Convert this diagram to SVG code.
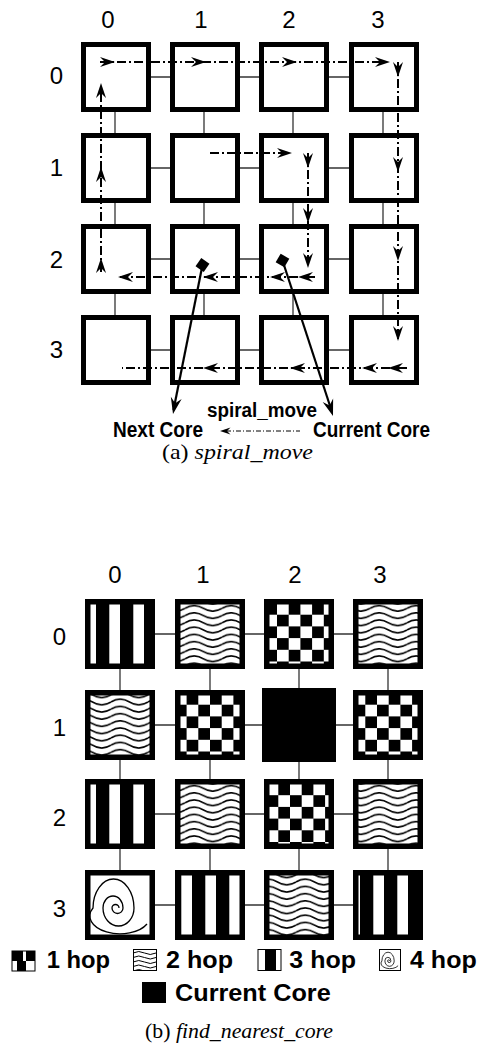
<svg xmlns="http://www.w3.org/2000/svg" width="479" height="1049" viewBox="0 0 479 1049">
<style>
.box{fill:#fff;stroke:#000;stroke-width:5}
.bb{stroke:#000;stroke-width:5.5}
.link{stroke:#333;stroke-width:1.3;fill:none}
.dd{stroke:#000;stroke-width:2;fill:none;stroke-dasharray:9 3 2 3}
.ptr{stroke:#000;stroke-width:2.2;fill:none}
.num{font-family:"Liberation Sans",Arial,sans-serif;font-size:24px;fill:#000}
.bld{font-family:"Liberation Sans",Arial,sans-serif;font-weight:bold;fill:#000}
.cap{font-family:"Liberation Serif","Times New Roman",serif;font-size:21px;fill:#000}
.sp{fill:none;stroke:#000}
</style>
<defs>
<path id="ah" d="M0 0 L-15 -5 L-10 0 L-15 5 Z" fill="#000"/>
<path id="spiral" vector-effect="non-scaling-stroke" d="M34 38 A3.5 3.5 0 0 0 27 38 A5.5 5.5 0 0 0 38 38 A10 12 0 0 0 18 38 A15.5 18 0 0 0 49 38 A20.5 29 0 0 0 8 38 A27 16 0 0 0 62 54"/>
<pattern id="stripes" patternUnits="userSpaceOnUse" width="24" height="10"><rect width="24" height="10" fill="#000"/><rect x="13.3" width="10.7" height="10" fill="#fff"/></pattern>
<pattern id="wave" patternUnits="userSpaceOnUse" width="37" height="7.2"><rect width="37" height="7.2" fill="#fff"/><path d="M0 3.6 Q9.25 -2 18.5 3.6 T37 3.6" fill="none" stroke="#000" stroke-width="1.6"/></pattern>
<pattern id="ck0" patternUnits="userSpaceOnUse" x="277" y="603" width="23.4" height="23.4"><rect width="23.4" height="23.4" fill="#000"/><rect width="11.7" height="11.7" fill="#fff"/><rect x="11.7" y="11.7" width="11.7" height="11.7" fill="#fff"/></pattern>
<pattern id="ck1" patternUnits="userSpaceOnUse" x="198.3" y="693" width="23.4" height="23.4"><rect width="23.4" height="23.4" fill="#000"/><rect width="11.7" height="11.7" fill="#fff"/><rect x="11.7" y="11.7" width="11.7" height="11.7" fill="#fff"/></pattern>
<pattern id="ck2" patternUnits="userSpaceOnUse" x="377" y="693" width="23.4" height="23.4"><rect width="23.4" height="23.4" fill="#000"/><rect width="11.7" height="11.7" fill="#fff"/><rect x="11.7" y="11.7" width="11.7" height="11.7" fill="#fff"/></pattern>
<pattern id="ck3" patternUnits="userSpaceOnUse" x="290" y="783.5" width="23.4" height="23.4"><rect width="23.4" height="23.4" fill="#000"/><rect width="11.7" height="11.7" fill="#fff"/><rect x="11.7" y="11.7" width="11.7" height="11.7" fill="#fff"/></pattern>
<clipPath id="c2hop"><rect x="133.5" y="949.5" width="23" height="21"/></clipPath>
</defs>
<rect width="479" height="1049" fill="#fff"/>

<!-- ===== (a) spiral_move ===== -->
<g id="a-labels" class="num">
<text x="108" y="28" text-anchor="middle">0</text>
<text x="201" y="28" text-anchor="middle">1</text>
<text x="289" y="28" text-anchor="middle">2</text>
<text x="378" y="28" text-anchor="middle">3</text>
<text x="63" y="84" text-anchor="end">0</text>
<text x="63" y="176" text-anchor="end">1</text>
<text x="63" y="268" text-anchor="end">2</text>
<text x="63" y="358" text-anchor="end">3</text>
</g>
<g id="a-links" class="link">
<line x1="116" y1="77" x2="384" y2="77"/>
<line x1="116" y1="168" x2="384" y2="168"/>
<line x1="116" y1="259" x2="384" y2="259"/>
<line x1="116" y1="350" x2="384" y2="350"/>
<line x1="115" y1="77" x2="115" y2="350"/>
<line x1="204" y1="77" x2="204" y2="350"/>
<line x1="293" y1="77" x2="293" y2="350"/>
<line x1="383" y1="77" x2="383" y2="350"/>
</g>
<g id="a-n00"><rect class="box" x="83.5" y="44.5" width="65" height="65"/></g>
<g id="a-n01"><rect class="box" x="172.5" y="44.5" width="65" height="65"/></g>
<g id="a-n02"><rect class="box" x="261.5" y="44.5" width="65" height="65"/></g>
<g id="a-n03"><rect class="box" x="351.5" y="44.5" width="65" height="65"/></g>
<g id="a-n10"><rect class="box" x="83.5" y="135.5" width="65" height="65"/></g>
<g id="a-n11"><rect class="box" x="172.5" y="135.5" width="65" height="65"/></g>
<g id="a-n12"><rect class="box" x="261.5" y="135.5" width="65" height="65"/></g>
<g id="a-n13"><rect class="box" x="351.5" y="135.5" width="65" height="65"/></g>
<g id="a-n20"><rect class="box" x="83.5" y="226.5" width="65" height="65"/></g>
<g id="a-n21"><rect class="box" x="172.5" y="226.5" width="65" height="65"/></g>
<g id="a-n22"><rect class="box" x="261.5" y="226.5" width="65" height="65"/></g>
<g id="a-n23"><rect class="box" x="351.5" y="226.5" width="65" height="65"/></g>
<g id="a-n30"><rect class="box" x="83.5" y="317.5" width="65" height="65"/></g>
<g id="a-n31"><rect class="box" x="172.5" y="317.5" width="65" height="65"/></g>
<g id="a-n32"><rect class="box" x="261.5" y="317.5" width="65" height="65"/></g>
<g id="a-n33"><rect class="box" x="351.5" y="317.5" width="65" height="65"/></g>

<g id="a-spiral">
<path class="dd" d="M210 153 H290"/>
<path class="dd" d="M308 153 V266"/>
<path class="dd" d="M315 277 H120"/>
<path class="dd" d="M101 272 V85"/>
<path class="dd" d="M100 62 H388"/>
<path class="dd" d="M398 62 V339"/>
<path class="dd" d="M407 368 H122"/>
<use href="#ah" transform="translate(292 153)"/>
<use href="#ah" transform="translate(308 168) rotate(90)"/>
<use href="#ah" transform="translate(308 223) rotate(90)"/>
<use href="#ah" transform="translate(308 268) rotate(90)"/>
<use href="#ah" transform="translate(298 277) rotate(180)"/>
<use href="#ah" transform="translate(270 277) rotate(180)"/>
<use href="#ah" transform="translate(203 277) rotate(180)"/>
<use href="#ah" transform="translate(118 277) rotate(180)"/>
<use href="#ah" transform="translate(101 258) rotate(-90)"/>
<use href="#ah" transform="translate(101 167) rotate(-90)"/>
<use href="#ah" transform="translate(101 83) rotate(-90)"/>
<use href="#ah" transform="translate(115 62)"/>
<use href="#ah" transform="translate(206 62)"/>
<use href="#ah" transform="translate(297 62)"/>
<use href="#ah" transform="translate(390 62)"/>
<use href="#ah" transform="translate(398 77) rotate(90)"/>
<use href="#ah" transform="translate(398 172) rotate(90)"/>
<use href="#ah" transform="translate(398 261) rotate(90)"/>
<use href="#ah" transform="translate(398 341) rotate(90)"/>
<use href="#ah" transform="translate(388 368) rotate(180)"/>
<use href="#ah" transform="translate(362 368) rotate(180)"/>
<use href="#ah" transform="translate(290 368) rotate(180)"/>
<use href="#ah" transform="translate(203 368) rotate(180)"/>
</g>
<g id="a-pointers">
<line class="ptr" x1="202.5" y1="265" x2="173.5" y2="410"/>
<line class="ptr" x1="282.5" y1="260.5" x2="332" y2="412"/>
<rect x="-5" y="-5" width="10" height="10" fill="#000" transform="translate(202.5 265) rotate(35)"/>
<rect x="-5" y="-5" width="10" height="10" fill="#000" transform="translate(282.5 260.5) rotate(30)"/>
<use href="#ah" transform="translate(173 414) rotate(101.3) scale(1.1)"/>
<use href="#ah" transform="translate(333 416) rotate(72) scale(1.1)"/>
</g>
<g id="a-legend">
<text class="bld" x="113" y="437" font-size="22" textLength="90" lengthAdjust="spacingAndGlyphs">Next Core</text>
<text class="bld" x="207" y="417" font-size="20" textLength="110" lengthAdjust="spacingAndGlyphs">spiral_move</text>
<text class="bld" x="313" y="437" font-size="22" textLength="117" lengthAdjust="spacingAndGlyphs">Current Core</text>
<line x1="226" y1="431" x2="300" y2="431" stroke="#000" stroke-width="1" stroke-dasharray="5 2 1 2"/>
<use href="#ah" transform="translate(220 431) rotate(180) scale(0.7)"/>
</g>
<text id="cap-a" class="cap" x="162" y="459" textLength="151" lengthAdjust="spacingAndGlyphs">(a) <tspan font-style="italic">spiral_move</tspan></text>

<!-- ===== (b) find_nearest_core ===== -->
<g id="b-labels" class="num">
<text x="115" y="583" text-anchor="middle">0</text>
<text x="203" y="583" text-anchor="middle">1</text>
<text x="295" y="583" text-anchor="middle">2</text>
<text x="380" y="583" text-anchor="middle">3</text>
<text x="66" y="645" text-anchor="end">0</text>
<text x="66" y="736" text-anchor="end">1</text>
<text x="66" y="826" text-anchor="end">2</text>
<text x="66" y="917" text-anchor="end">3</text>
</g>
<g id="b-links" class="link">
<line x1="120" y1="634" x2="388" y2="634"/>
<line x1="120" y1="725" x2="388" y2="725"/>
<line x1="120" y1="814" x2="388" y2="814"/>
<line x1="120" y1="905" x2="388" y2="905"/>
<line x1="120" y1="634" x2="120" y2="905"/>
<line x1="210" y1="634" x2="210" y2="905"/>
<line x1="299" y1="634" x2="299" y2="905"/>
<line x1="388" y1="634" x2="388" y2="905"/>
</g>
<g id="b-n00"><rect class="bb" fill="url(#stripes)" x="87.75" y="601.75" width="64.5" height="64.5"/></g>
<g id="b-n01"><rect class="bb" fill="url(#wave)" x="177.75" y="601.75" width="64.5" height="64.5"/></g>
<g id="b-n02"><rect class="bb" fill="url(#ck0)" x="266.75" y="601.75" width="64.5" height="64.5"/></g>
<g id="b-n03"><rect class="bb" fill="url(#wave)" x="355.75" y="601.75" width="64.5" height="64.5"/></g>
<g id="b-n10"><rect class="bb" fill="url(#wave)" x="87.75" y="692.75" width="64.5" height="64.5"/></g>
<g id="b-n11"><rect class="bb" fill="url(#ck1)" x="177.75" y="692.75" width="64.5" height="64.5"/></g>
<g id="b-n12"><rect fill="#000" x="262" y="688" width="74" height="74"/></g>
<g id="b-n13"><rect class="bb" fill="url(#ck2)" x="355.75" y="692.75" width="64.5" height="64.5"/></g>
<g id="b-n20"><rect class="bb" fill="url(#stripes)" x="87.75" y="781.75" width="64.5" height="64.5"/></g>
<g id="b-n21"><rect class="bb" fill="url(#wave)" x="177.75" y="781.75" width="64.5" height="64.5"/></g>
<g id="b-n22"><rect class="bb" fill="url(#ck3)" x="266.75" y="781.75" width="64.5" height="64.5"/></g>
<g id="b-n23"><rect class="bb" fill="url(#wave)" x="355.75" y="781.75" width="64.5" height="64.5"/></g>
<g id="b-n30"><rect class="bb" fill="#fff" x="87.75" y="872.75" width="64.5" height="64.5"/><use href="#spiral" class="sp" stroke-width="1.3" transform="translate(85 870)"/></g>
<g id="b-n31"><rect class="bb" fill="url(#stripes)" x="177.75" y="872.75" width="64.5" height="64.5"/></g>
<g id="b-n32"><rect class="bb" fill="url(#wave)" x="266.75" y="872.75" width="64.5" height="64.5"/></g>
<g id="b-n33"><rect class="bb" fill="url(#stripes)" x="355.75" y="872.75" width="64.5" height="64.5"/></g>

<g id="b-legend">
<g id="leg1">
<rect x="12" y="951" width="23" height="20" fill="#fff" stroke="#000" stroke-width="1"/>
<rect x="12" y="951" width="11" height="10" fill="#000"/>
<rect x="26" y="951" width="9" height="10" fill="#000"/>
<rect x="17" y="961" width="9" height="10" fill="#000"/>
<text class="bld" x="46.7" y="968" font-size="23" textLength="63.3" lengthAdjust="spacingAndGlyphs">1 hop</text>
</g>
<g id="leg2">
<rect x="133.5" y="949.5" width="23" height="21" fill="#fff"/>
<g clip-path="url(#c2hop)" fill="none" stroke="#000" stroke-width="1">
<path d="M133 953 q5.75 -3 11.5 0 t11.5 0"/>
<path d="M133 957.5 q5.75 -3 11.5 0 t11.5 0"/>
<path d="M133 962 q5.75 -3 11.5 0 t11.5 0"/>
<path d="M133 966.5 q5.75 -3 11.5 0 t11.5 0"/>
<path d="M133 971 q5.75 -3 11.5 0 t11.5 0"/>
</g>
<rect x="133.5" y="949.5" width="23" height="21" fill="none" stroke="#000" stroke-width="1"/>
<text class="bld" x="166" y="968" font-size="23" textLength="67" lengthAdjust="spacingAndGlyphs">2 hop</text>
</g>
<g id="leg3">
<rect x="258" y="949.5" width="23" height="21" fill="#fff" stroke="#000" stroke-width="1"/>
<rect x="265" y="949.5" width="11" height="21" fill="#000"/>
<text class="bld" x="289.3" y="968" font-size="23" textLength="66.7" lengthAdjust="spacingAndGlyphs">3 hop</text>
</g>
<g id="leg4">
<rect x="379.5" y="949.5" width="21" height="21" fill="#fff" stroke="#000" stroke-width="1"/>
<use href="#spiral" class="sp" stroke-width="0.8" transform="translate(379.5 949.5) scale(0.3)"/>
<text class="bld" x="410" y="968" font-size="23" textLength="66.7" lengthAdjust="spacingAndGlyphs">4 hop</text>
</g>
<g id="legc">
<rect x="142" y="982" width="24" height="21" fill="#000"/>
<text class="bld" x="175" y="1001" font-size="24" textLength="155.7" lengthAdjust="spacingAndGlyphs">Current Core</text>
</g>
</g>
<text id="cap-b" class="cap" x="145" y="1038" textLength="188" lengthAdjust="spacingAndGlyphs">(b) <tspan font-style="italic">find_nearest_core</tspan></text>
</svg>
